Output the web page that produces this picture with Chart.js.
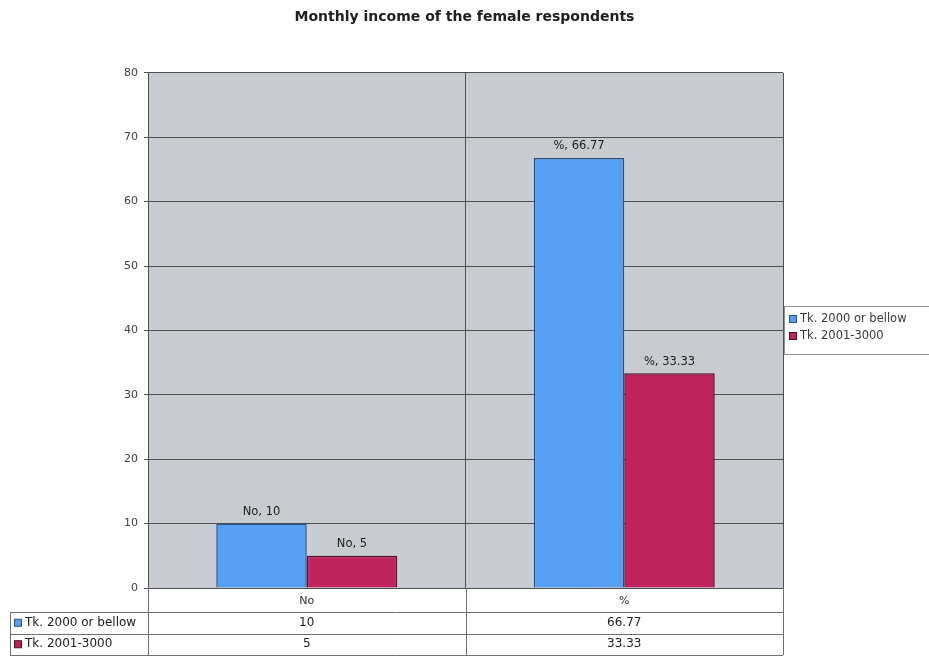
<!DOCTYPE html>
<html>
<head>
<meta charset="utf-8">
<script src="https://cdn.jsdelivr.net/npm/chart.js@4/dist/chart.umd.min.js"></script>
<style>
  html, body { margin: 0; padding: 0; background: #ffffff; }
  #wrap { width: 929px; height: 662px; }
</style>
</head>
<body>
<div id="wrap"><canvas id="incomeChart" width="929" height="662"></canvas></div>
<script>
// categories and series
const categories = ['No', '%'];
const seriesNames = ['Tk. 2000 or bellow', 'Tk. 2001-3000'];
const lowIncome = [10, 66.77];
const midIncome = [5, 33.33];
const yTicks = [0, 10, 20, 30, 40, 50, 60, 70, 80];

const fillColors = ['#55a0f2', '#c0225c'];
const edgeColors = ['#2d4f7c', '#4a1028'];
const FONT = '"DejaVu Sans", Verdana, sans-serif';

// gray plot background
const plotBackground = {
  id: 'plotBackground',
  beforeDraw(chart) {
    const { ctx, chartArea: a } = chart;
    ctx.save();
    ctx.fillStyle = '#c8ccd1';
    ctx.fillRect(a.left, a.top, a.right - a.left, a.bottom - a.top);
    ctx.restore();
  }
};

// "No, 10" style labels above bars
const barLabels = {
  id: 'barLabels',
  afterDatasetsDraw(chart) {
    const { ctx } = chart;
    ctx.save();
    ctx.font = '11.5px ' + FONT;
    ctx.fillStyle = '#202020';
    ctx.textAlign = 'center';
    ctx.textBaseline = 'bottom';
    chart.data.datasets.forEach((ds, i) => {
      chart.getDatasetMeta(i).data.forEach((bar, j) => {
        ctx.fillText(chart.data.labels[j] + ', ' + ds.data[j], bar.x, bar.y - 6);
      });
    });
    ctx.restore();
  }
};

// data table under the x axis + legend box on the right
const dataTable = {
  id: 'dataTable',
  afterDraw(chart) {
    const { ctx, chartArea: a } = chart;
    const x = chart.scales.x;
    const rowH = 21.5;
    const top = a.bottom;
    const rowTops = [top + 24, top + 24 + rowH, top + 24 + rowH * 2];
    ctx.save();
    ctx.strokeStyle = '#707070';
    ctx.lineWidth = 1;
    ctx.beginPath();
    // horizontal rules
    rowTops.forEach(y => {
      ctx.moveTo(10, Math.round(y) + 0.5);
      ctx.lineTo(a.right, Math.round(y) + 0.5);
    });
    // vertical rules
    ctx.moveTo(a.left + 0.5, top);
    ctx.lineTo(a.left + 0.5, rowTops[2]);
    ctx.moveTo(10.5, rowTops[0]);
    ctx.lineTo(10.5, rowTops[2]);
    const step = (a.right - a.left) / categories.length;
    for (let k = 1; k <= categories.length; k++) {
      const vx = Math.round(a.left + step * k) + 0.5;
      ctx.moveTo(vx, top);
      ctx.lineTo(vx, rowTops[2]);
    }
    ctx.stroke();

    ctx.font = '12px ' + FONT;
    ctx.textBaseline = 'middle';
    chart.data.datasets.forEach((ds, i) => {
      const cy = rowTops[i] + rowH / 2;
      ctx.fillStyle = ds.backgroundColor;
      ctx.strokeStyle = ds.borderColor;
      ctx.fillRect(14, cy - 3.5, 7, 7);
      ctx.strokeRect(14.5, cy - 3.5, 7, 7);
      ctx.fillStyle = '#202020';
      ctx.textAlign = 'left';
      ctx.fillText(ds.label, 25, cy);
      ctx.textAlign = 'center';
      ds.data.forEach((v, j) => {
        ctx.fillText(String(v), x.getPixelForValue(j), cy);
      });
    });

    // legend
    const lx = a.right + 1, ly = 306, lw = 145, lh = 48;
    ctx.strokeStyle = '#909090';
    ctx.strokeRect(lx + 0.5, ly + 0.5, lw, lh);
    ctx.font = '11.5px ' + FONT;
    chart.data.datasets.forEach((ds, i) => {
      const cy = ly + 13 + i * 17;
      ctx.fillStyle = ds.backgroundColor;
      ctx.fillRect(lx + 5, cy - 3.5, 7, 7);
      ctx.strokeStyle = ds.borderColor;
      ctx.strokeRect(lx + 5.5, cy - 3.5, 7, 7);
      ctx.fillStyle = '#383838';
      ctx.textAlign = 'left';
      ctx.fillText(ds.label, lx + 16, cy);
    });
    ctx.restore();
  }
};

new Chart(document.getElementById('incomeChart'), {
  type: 'bar',
  data: {
    labels: categories,
    datasets: [
      { label: seriesNames[0], data: lowIncome, backgroundColor: fillColors[0], borderColor: edgeColors[0], borderWidth: 1.5 },
      { label: seriesNames[1], data: midIncome, backgroundColor: fillColors[1], borderColor: edgeColors[1], borderWidth: 1.5 }
    ]
  },
  options: {
    responsive: false,
    animation: false,
    layout: { padding: 0 },
    datasets: { bar: { categoryPercentage: 0.57, barPercentage: 1 } },
    plugins: {
      legend: { display: false },
      tooltip: { enabled: false },
      title: {
        display: true,
        text: 'Monthly income of the female respondents',
        color: '#202020',
        font: { family: FONT, size: 14, weight: 'bold' },
        padding: { top: 9, bottom: 47 }
      }
    },
    scales: {
      x: {
        offset: true,
        grid: { display: true, offset: true, color: '#505050', drawTicks: false },
        border: { color: '#505050' },
        ticks: { color: '#303030', font: { family: FONT, size: 11 }, padding: 7 },
        afterFit(scale) { scale.height = 74; }
      },
      y: {
        min: 0,
        max: 80,
        afterBuildTicks(scale) { scale.ticks = yTicks.map(v => ({ value: v })); },
        grid: { color: '#505050', tickLength: 4 },
        border: { color: '#505050' },
        ticks: { color: '#404040', font: { family: FONT, size: 11 }, padding: 6 },
        afterFit(scale) { scale.width = 148; }
      },
      // empty right axis that reserves room for the legend
      legendSpace: {
        axis: 'y',
        position: 'right',
        display: true,
        grid: { display: false },
        border: { display: false },
        ticks: { display: false },
        afterFit(scale) { scale.width = 146; }
      }
    }
  },
  plugins: [plotBackground, barLabels, dataTable]
});
</script>
</body>
</html>
